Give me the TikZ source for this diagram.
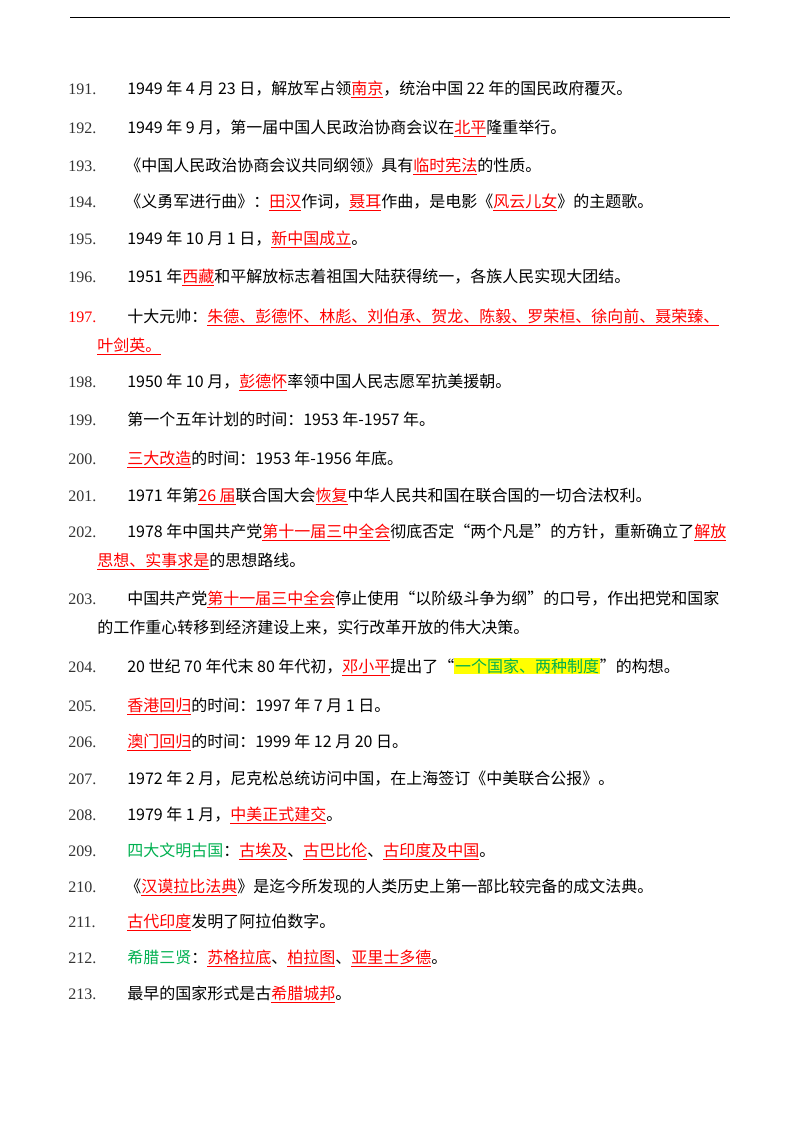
\documentclass[tikz,border=0pt]{standalone}
\usepackage{fontspec}
\setmainfont{Noto Sans CJK SC}
\newfontfamily\numfont{Liberation Serif}
\definecolor{rd}{RGB}{255,0,0}
\definecolor{gn}{RGB}{0,176,80}
\definecolor{hy}{RGB}{255,255,0}
\newcommand\ru[1]{\textcolor{rd}{\underline{#1}}}
\newcommand\hl[1]{{\setlength{\fboxsep}{0.5pt}\colorbox{hy}{\textcolor{gn}{#1}}}}
\begin{document}
\begin{tikzpicture}[x=0.75pt,y=-0.75pt,
  num/.style={anchor=base west,inner sep=0pt,font=\numfont\fontsize{12}{14}\selectfont,text=black!80},
  txt/.style={anchor=base west,inner sep=0pt,font=\fontsize{12}{14}\selectfont}]
\useasboundingbox (0,0) rectangle (800,1132);
\draw[line width=0.6pt] (70,17) -- (730,17);
\foreach \n/\y in {191/94,192/133,193/171,194/207,195/244,196/282,198/387,199/425,200/464,201/501,202/537,203/604,204/672,205/711,206/747,207/784,208/820,209/856,210/892,211/927,212/963,213/999}{
  \node[num] (n\n) at (68,\y) {\n.};}
\node[num,text=rd] (n197) at (68,322) {197.};
\node[txt] (t191) at (127,94) {1949 年 4 月 23 日，解放军占领\ru{南京}，统治中国 22 年的国民政府覆灭。};
\node[txt] (t192) at (127,133) {1949 年 9 月，第一届中国人民政治协商会议在\ru{北平}隆重举行。};
\node[txt] (t193) at (125,171) {《中国人民政治协商会议共同纲领》具有\ru{临时宪法}的性质。};
\node[txt] (t194) at (125,207) {《义勇军进行曲》：\ru{田汉}作词，\ru{聂耳}作曲，是电影《\ru{风云儿女}》的主题歌。};
\node[txt] (t195) at (127,244) {1949 年 10 月 1 日，\ru{新中国成立}。};
\node[txt] (t196) at (127,282) {1951 年\ru{西藏}和平解放标志着祖国大陆获得统一，各族人民实现大团结。};
\node[txt] (t197) at (127,322) {十大元帅：\ru{朱德、彭德怀、林彪、刘伯承、贺龙、陈毅、罗荣桓、徐向前、聂荣臻、}};
\node[txt] (t197b) at (97,351) {\ru{叶剑英。}};
\node[txt] (t198) at (127,387) {1950 年 10 月，\ru{彭德怀}率领中国人民志愿军抗美援朝。};
\node[txt] (t199) at (127,425) {第一个五年计划的时间：1953 年-1957 年。};
\node[txt] (t200) at (127,464) {\ru{三大改造}的时间：1953 年-1956 年底。};
\node[txt] (t201) at (127,501) {1971 年第\ru{26 届}联合国大会\ru{恢复}中华人民共和国在联合国的一切合法权利。};
\node[txt] (t202) at (127,537) {1978 年中国共产党\ru{第十一届三中全会}彻底否定“两个凡是”的方针，重新确立了\ru{解放}};
\node[txt] (t202b) at (97,566) {\ru{思想、实事求是}的思想路线。};
\node[txt] (t203) at (127,604) {中国共产党\ru{第十一届三中全会}停止使用“以阶级斗争为纲”的口号，作出把党和国家};
\node[txt] (t203b) at (97,633) {的工作重心转移到经济建设上来，实行改革开放的伟大决策。};
\node[txt] (t204) at (127,672) {20 世纪 70 年代末 80 年代初，\ru{邓小平}提出了“\hl{一个国家、两种制度}”的构想。};
\node[txt] (t205) at (127,711) {\ru{香港回归}的时间：1997 年 7 月 1 日。};
\node[txt] (t206) at (127,747) {\ru{澳门回归}的时间：1999 年 12 月 20 日。};
\node[txt] (t207) at (127,784) {1972 年 2 月，尼克松总统访问中国，在上海签订《中美联合公报》。};
\node[txt] (t208) at (127,820) {1979 年 1 月，\ru{中美正式建交}。};
\node[txt] (t209) at (127,856) {\textcolor{gn}{四大文明古国}：\ru{古埃及}、\ru{古巴比伦}、\ru{古印度及中国}。};
\node[txt] (t210) at (125,892) {《\ru{汉谟拉比法典}》是迄今所发现的人类历史上第一部比较完备的成文法典。};
\node[txt] (t211) at (127,927) {\ru{古代印度}发明了阿拉伯数字。};
\node[txt] (t212) at (127,963) {\textcolor{gn}{希腊三贤}：\ru{苏格拉底}、\ru{柏拉图}、\ru{亚里士多德}。};
\node[txt] (t213) at (127,999) {最早的国家形式是古\ru{希腊城邦}。};
\end{tikzpicture}
\end{document}
